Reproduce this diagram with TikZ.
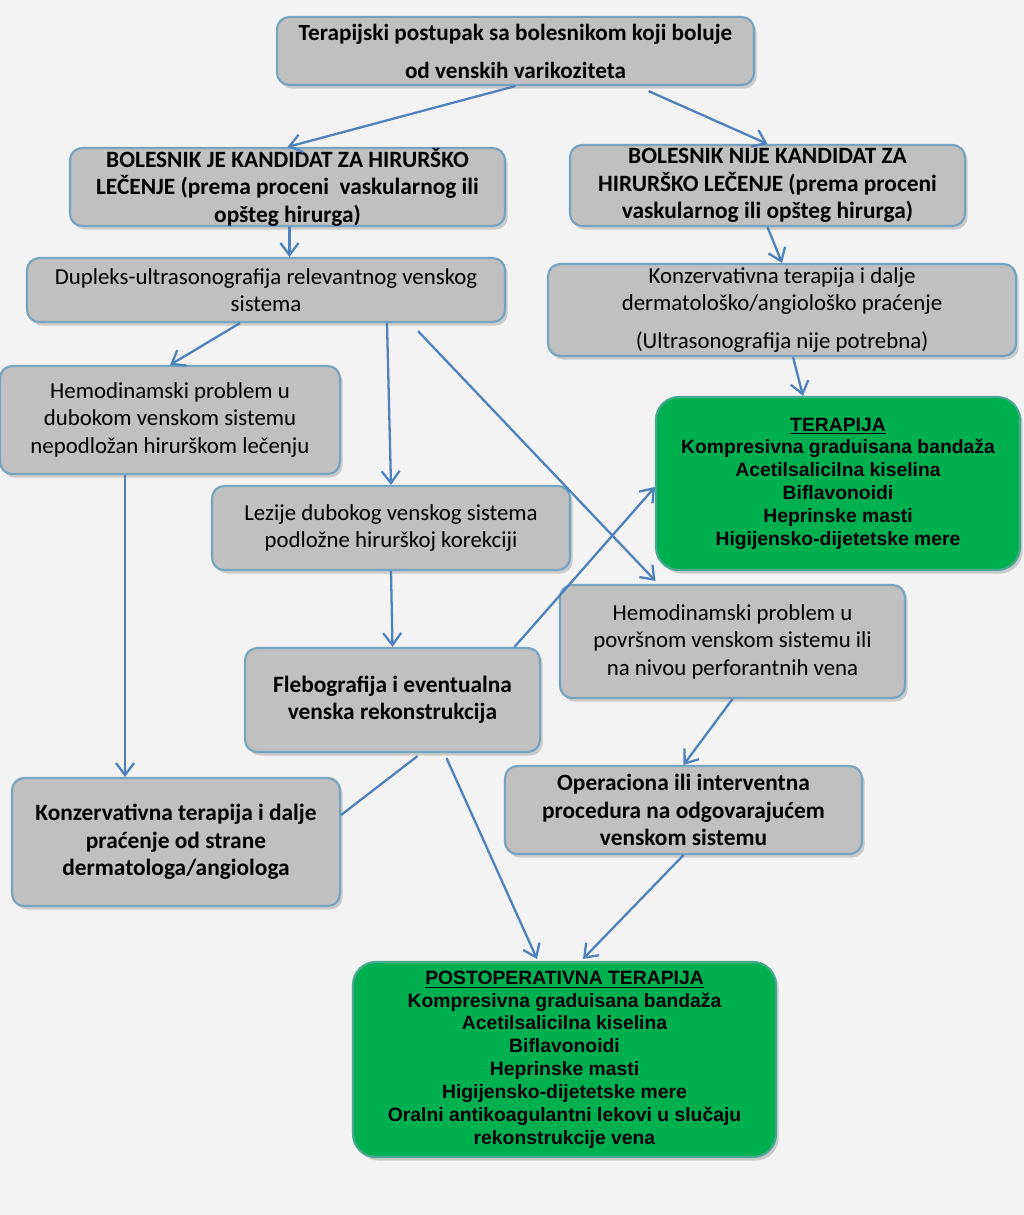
\documentclass[tikz,border=0pt]{standalone}
\usepackage{fontspec}
\setmainfont{Carlito}
\newfontfamily\arialfont{Liberation Sans}
\usetikzlibrary{arrows.meta, calc, shadows}
\definecolor{boxGray}{RGB}{192,192,192}
\definecolor{boxEdge}{RGB}{118,163,190}
\definecolor{flowBlue}{RGB}{79,129,189}
\definecolor{therapyGreen}{RGB}{0,176,80}
\definecolor{pageGray}{RGB}{243,243,243}

\begin{document}
\begin{tikzpicture}[x=0.02cm, y=-0.02cm, >={Straight Barb[length=2.4mm, width=3.6mm]}]

% --- Styles ---
\tikzset{
    boxSize/.style 2 args={minimum width=#1*0.02cm, minimum height=#2*0.02cm},
    grayBox/.style={draw=boxEdge, line width=1.2pt, fill=boxGray, rounded corners=7pt,
        align=center, inner sep=0pt,
        drop shadow={shadow xshift=1.5pt, shadow yshift=-2pt, opacity=0.35},
        font=\fontsize{13}{15.6}\selectfont},
    grayBoxBold/.style={grayBox, font=\bfseries\fontsize{13.3}{15.6}\selectfont},
    greenBox/.style={draw=boxEdge!60!therapyGreen, line width=1.2pt, fill=therapyGreen,
        rounded corners=13pt, align=center, inner sep=0pt,
        drop shadow={shadow xshift=1.5pt, shadow yshift=-2pt, opacity=0.35},
        font=\arialfont\bfseries\fontsize{11}{13}\selectfont},
    flowArrow/.style={->, flowBlue, line width=1.3pt},
    plainLink/.style={flowBlue, line width=1.3pt},
}

% --- Page ---
\fill[pageGray] (0,0) rectangle (1024,1215);
\useasboundingbox (0,0) rectangle (1024,1215);

% --- Top ---
\node[grayBoxBold, boxSize={477}{68}, font=\bfseries\fontsize{13.2}{21.6}\selectfont] (top) at (515.5,51)
    {Terapijski postupak sa bolesnikom koji boluje\\od venskih varikoziteta};

% --- Two branches ---
\node[grayBoxBold, boxSize={435}{78}] (kand) at (287.5,187)
    {BOLESNIK JE KANDIDAT ZA HIRURŠKO\\LEČENJE (prema proceni\ \ vaskularnog ili\\opšteg hirurga)};
\node[grayBoxBold, boxSize={395}{81}] (nije) at (767.5,185.5)
    {BOLESNIK NIJE KANDIDAT ZA\\HIRURŠKO LEČENJE (prema proceni\\vaskularnog ili opšteg hirurga)};

\node[grayBox, boxSize={478}{64}] (dupleks) at (266,290)
    {Dupleks-ultrasonografija relevantnog venskog\\sistema};
\node[grayBox, boxSize={468}{92}] (konzR) at (782,310)
    {Konzervativna terapija i dalje\\dermatološko/angiološko praćenje\\[0.22cm](Ultrasonografija nije potrebna)};

% --- Therapy (no surgery) ---
\node[greenBox, boxSize={364}{173}] (terapija) at (838,483.5)
    {\underline{TERAPIJA}\\Kompresivna graduisana bandaža\\Acetilsalicilna kiselina\\Biflavonoidi\\Heprinske masti\\Higijensko-dijetetske mere};

% --- Findings ---
\node[grayBox, boxSize={340}{108}] (hemoD) at (170,420)
    {Hemodinamski problem u\\dubokom venskom sistemu\\nepodložan hirurškom lečenju};
\node[grayBox, boxSize={358}{84}] (lezije) at (391,528)
    {Lezije dubokog venskog sistema\\podložne hirurškoj korekciji};
\node[grayBox, boxSize={345}{113}] (hemoP) at (732.5,641.5)
    {Hemodinamski problem u\\površnom venskom sistemu ili\\na nivou perforantnih vena};
\node[grayBoxBold, boxSize={295}{104}] (fleb) at (392.5,700)
    {Flebografija i eventualna\\venska rekonstrukcija};
\node[grayBoxBold, boxSize={357}{88}] (oper) at (683.5,810)
    {Operaciona ili interventna\\procedura na odgovarajućem\\venskom sistemu};
\node[grayBoxBold, boxSize={328}{128}] (konzL) at (176,842)
    {Konzervativna terapija i dalje\\praćenje od strane\\dermatologa/angiologa};

% --- Postoperative ---
\node[greenBox, boxSize={423}{195}] (postop) at (564.5,1059.5)
    {\underline{POSTOPERATIVNA TERAPIJA}\\Kompresivna graduisana bandaža\\Acetilsalicilna kiselina\\Biflavonoidi\\Heprinske masti\\Higijensko-dijetetske mere\\Oralni antikoagulantni lekovi u slučaju\\rekonstrukcije vena};

% --- Connectors ---
\draw[flowArrow] (top.south) -- (kand.north);
\draw[flowArrow] ($(top.south)+(133,5)$) -- (nije.north);
\draw[flowArrow] ($(kand.south)+(2,0)$) -- ($(kand.south |- dupleks.north)+(2,0)$);
\draw[flowArrow] (nije.south) -- (konzR.north);
\draw[flowArrow] ($(dupleks.south)+(-26,0)$) -- (hemoD.north);
\draw[flowArrow] ($(dupleks.south)+(121,0)$) -- (lezije.north);
\draw[flowArrow] ($(dupleks.south)+(152,8)$) -- ($(hemoP.north)+(-77,-3)$);
\draw[flowArrow] ($(konzR.south)+(11,0)$) -- ($(terapija.north)+(-35,0)$);
\draw[flowArrow] ($(hemoD.south)+(-45,0)$) -- ($(konzL.north)+(-51,0)$);
\draw[flowArrow] (lezije.south) -- (fleb.north);
\draw[flowArrow] ($(fleb.north)+(122,0)$) -- ($(terapija.west)+(0,3.5)$);
\draw[plainLink] ($(fleb.south)+(25,3)$) -- ($(konzL.east)+(0,-27)$);
\draw[flowArrow] ($(fleb.south)+(54,5)$) -- ($(postop.north)+(-27.5,-2)$);
\draw[flowArrow] (hemoP.south) -- (oper.north);
\draw[flowArrow] (oper.south) -- ($(postop.north)+(18.5,-2)$);

\end{tikzpicture}
\end{document}
